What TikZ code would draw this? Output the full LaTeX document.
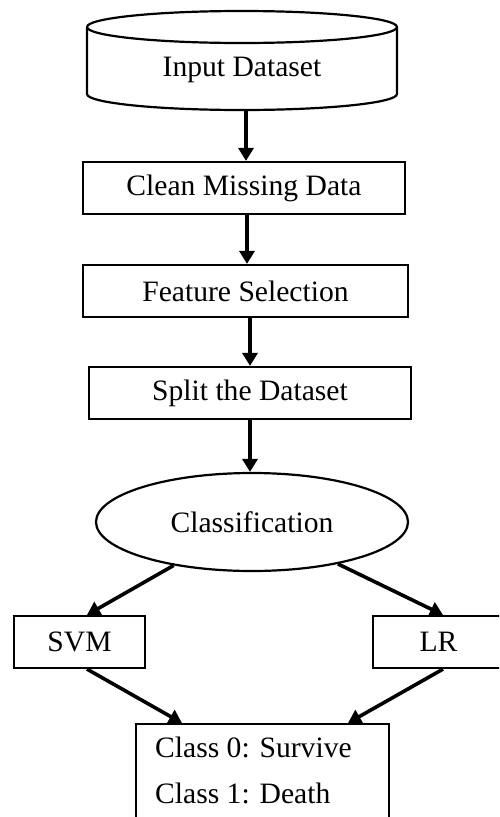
\documentclass[tikz,border=0pt]{standalone}
\usepackage{fontspec}
\setmainfont{Liberation Serif}
\usetikzlibrary{arrows.meta,shapes.geometric}
\begin{document}
\begin{tikzpicture}[x=1pt,y=-1pt,
  every node/.style={font=\fontsize{29.6}{35}\selectfont},
  stepbox/.style={draw,line width=2.2pt,rectangle,inner sep=0pt},
  decision/.style={draw,line width=2.2pt,ellipse,inner sep=0pt,
    minimum width=312pt,minimum height=98pt},
  flow/.style={line width=3.6pt,
    -{Triangle[length=13pt,width=15pt]}},
  txt/.style={inner sep=0pt}]
\useasboundingbox (0,0) rectangle (499,817);
\clip (0,0) rectangle (499,817);

% data store (cylinder): full top rim, sides and lower front rim
\draw[line width=2.2pt] (87,27) arc[start angle=180,end angle=-180,x radius=155,y radius=16];
\draw[line width=2.2pt] (87,27) -- (87,94)
  arc[start angle=180,end angle=0,x radius=155,y radius=16] -- (397,27);
\node[txt] (input) at (242,70) {Input Dataset};
\coordinate (inbot) at (246,110);

% processing steps
\node[stepbox,minimum width=322pt,minimum height=52pt] (clean) at (244,188) {Clean Missing Data};
\node[stepbox,minimum width=325pt,minimum height=52pt] (feat) at (245.5,291) {Feature Selection};
\node[stepbox,minimum width=322pt,minimum height=52pt] (split) at (250,393) {Split the Dataset};
\node[decision] (class) at (252,522) {Classification};
\node[stepbox,minimum width=131pt,minimum height=52pt] (svm) at (79.5,642) {SVM};
\node[stepbox,minimum width=131pt,minimum height=52pt] (lr) at (438.5,642) {LR};
\node[stepbox,anchor=north west,minimum width=253pt,minimum height=130pt] (out) at (135,723) {};
\node[txt,anchor=base west] (c0) at (155,757) {Class 0: Survive};
\node[txt,anchor=base west] (c1) at (155,803) {Class 1: Death};

% connectors
\coordinate (cleanout) at ([xshift=3pt]clean.south);
\draw[flow] (inbot) -- (clean.north -| inbot);
\draw[flow] (cleanout) -- (feat.north -| cleanout);
\draw[flow] (feat.south -| split.north) -- (split.north);
\draw[flow] (split.south) -- (class.north -| split.south);
\draw[flow] (class.209) -- ([xshift=7.5pt]svm.north);
\draw[flow] (class.334) -- ([xshift=4.5pt]lr.north);
\draw[flow] ([xshift=7.5pt]svm.south) -- ([xshift=47pt]out.north west);
\draw[flow] ([xshift=4.5pt]lr.south) -- ([xshift=213pt]out.north west);
\end{tikzpicture}
\end{document}
